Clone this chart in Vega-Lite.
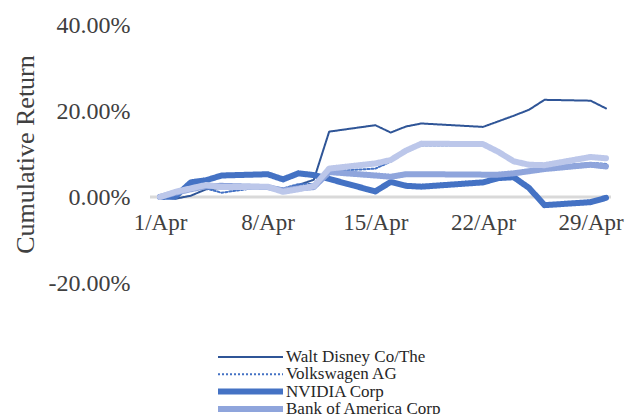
{
  "$schema": "https://vega.github.io/schema/vega-lite/v6.json",
  "width": 461,
  "height": 258,
  "autosize": {"type": "none"},
  "padding": {"left": 150, "top": 25, "right": 15, "bottom": 131},
  "background": "white",
  "config": {"view": {"stroke": null}, "font": "Liberation Serif"},
  "layer": [
    {
      "data": {"values": [{}]},
      "mark": {"type": "rule", "color": "#d9d9d9", "strokeWidth": 3},
      "encoding": {"y": {"datum": 0, "type": "quantitative"}}
    },
    {
      "data": {"values": [
        {"date": "2019-04-01", "series": "Walt Disney Co/The", "ret": 0},
        {"date": "2019-04-02", "series": "Walt Disney Co/The", "ret": -0.004},
        {"date": "2019-04-03", "series": "Walt Disney Co/The", "ret": 0.003},
        {"date": "2019-04-04", "series": "Walt Disney Co/The", "ret": 0.018},
        {"date": "2019-04-05", "series": "Walt Disney Co/The", "ret": 0.021},
        {"date": "2019-04-08", "series": "Walt Disney Co/The", "ret": 0.023},
        {"date": "2019-04-09", "series": "Walt Disney Co/The", "ret": 0.017},
        {"date": "2019-04-10", "series": "Walt Disney Co/The", "ret": 0.028},
        {"date": "2019-04-11", "series": "Walt Disney Co/The", "ret": 0.040},
        {"date": "2019-04-12", "series": "Walt Disney Co/The", "ret": 0.152},
        {"date": "2019-04-15", "series": "Walt Disney Co/The", "ret": 0.167},
        {"date": "2019-04-16", "series": "Walt Disney Co/The", "ret": 0.150},
        {"date": "2019-04-17", "series": "Walt Disney Co/The", "ret": 0.164},
        {"date": "2019-04-18", "series": "Walt Disney Co/The", "ret": 0.171},
        {"date": "2019-04-22", "series": "Walt Disney Co/The", "ret": 0.163},
        {"date": "2019-04-23", "series": "Walt Disney Co/The", "ret": 0.176},
        {"date": "2019-04-24", "series": "Walt Disney Co/The", "ret": 0.189},
        {"date": "2019-04-25", "series": "Walt Disney Co/The", "ret": 0.203},
        {"date": "2019-04-26", "series": "Walt Disney Co/The", "ret": 0.226},
        {"date": "2019-04-29", "series": "Walt Disney Co/The", "ret": 0.224},
        {"date": "2019-04-30", "series": "Walt Disney Co/The", "ret": 0.206},

        {"date": "2019-04-01", "series": "Volkswagen AG", "ret": 0},
        {"date": "2019-04-02", "series": "Volkswagen AG", "ret": 0.015},
        {"date": "2019-04-03", "series": "Volkswagen AG", "ret": 0.025},
        {"date": "2019-04-04", "series": "Volkswagen AG", "ret": 0.020},
        {"date": "2019-04-05", "series": "Volkswagen AG", "ret": 0.010},
        {"date": "2019-04-08", "series": "Volkswagen AG", "ret": 0.025},
        {"date": "2019-04-09", "series": "Volkswagen AG", "ret": 0.020},
        {"date": "2019-04-10", "series": "Volkswagen AG", "ret": 0.030},
        {"date": "2019-04-11", "series": "Volkswagen AG", "ret": 0.030},
        {"date": "2019-04-12", "series": "Volkswagen AG", "ret": 0.060},
        {"date": "2019-04-15", "series": "Volkswagen AG", "ret": 0.066},
        {"date": "2019-04-16", "series": "Volkswagen AG", "ret": 0.082},
        {"date": "2019-04-17", "series": "Volkswagen AG", "ret": 0.108},
        {"date": "2019-04-18", "series": "Volkswagen AG", "ret": 0.120},
        {"date": "2019-04-22", "series": "Volkswagen AG", "ret": 0.120},
        {"date": "2019-04-23", "series": "Volkswagen AG", "ret": 0.102},
        {"date": "2019-04-24", "series": "Volkswagen AG", "ret": 0.083},
        {"date": "2019-04-25", "series": "Volkswagen AG", "ret": 0.072},
        {"date": "2019-04-26", "series": "Volkswagen AG", "ret": 0.070},
        {"date": "2019-04-29", "series": "Volkswagen AG", "ret": 0.079},
        {"date": "2019-04-30", "series": "Volkswagen AG", "ret": 0.077},

        {"date": "2019-04-01", "series": "NVIDIA Corp", "ret": 0},
        {"date": "2019-04-02", "series": "NVIDIA Corp", "ret": 0.001},
        {"date": "2019-04-03", "series": "NVIDIA Corp", "ret": 0.034},
        {"date": "2019-04-04", "series": "NVIDIA Corp", "ret": 0.039},
        {"date": "2019-04-05", "series": "NVIDIA Corp", "ret": 0.050},
        {"date": "2019-04-08", "series": "NVIDIA Corp", "ret": 0.053},
        {"date": "2019-04-09", "series": "NVIDIA Corp", "ret": 0.041},
        {"date": "2019-04-10", "series": "NVIDIA Corp", "ret": 0.055},
        {"date": "2019-04-11", "series": "NVIDIA Corp", "ret": 0.051},
        {"date": "2019-04-12", "series": "NVIDIA Corp", "ret": 0.042},
        {"date": "2019-04-15", "series": "NVIDIA Corp", "ret": 0.013},
        {"date": "2019-04-16", "series": "NVIDIA Corp", "ret": 0.035},
        {"date": "2019-04-17", "series": "NVIDIA Corp", "ret": 0.026},
        {"date": "2019-04-18", "series": "NVIDIA Corp", "ret": 0.024},
        {"date": "2019-04-22", "series": "NVIDIA Corp", "ret": 0.034},
        {"date": "2019-04-23", "series": "NVIDIA Corp", "ret": 0.044},
        {"date": "2019-04-24", "series": "NVIDIA Corp", "ret": 0.046},
        {"date": "2019-04-25", "series": "NVIDIA Corp", "ret": 0.021},
        {"date": "2019-04-26", "series": "NVIDIA Corp", "ret": -0.019},
        {"date": "2019-04-29", "series": "NVIDIA Corp", "ret": -0.012},
        {"date": "2019-04-30", "series": "NVIDIA Corp", "ret": -0.002},

        {"date": "2019-04-01", "series": "Bank of America Corp", "ret": 0},
        {"date": "2019-04-02", "series": "Bank of America Corp", "ret": 0.010},
        {"date": "2019-04-03", "series": "Bank of America Corp", "ret": 0.018},
        {"date": "2019-04-04", "series": "Bank of America Corp", "ret": 0.025},
        {"date": "2019-04-05", "series": "Bank of America Corp", "ret": 0.026},
        {"date": "2019-04-08", "series": "Bank of America Corp", "ret": 0.023},
        {"date": "2019-04-09", "series": "Bank of America Corp", "ret": 0.015},
        {"date": "2019-04-10", "series": "Bank of America Corp", "ret": 0.020},
        {"date": "2019-04-11", "series": "Bank of America Corp", "ret": 0.023},
        {"date": "2019-04-12", "series": "Bank of America Corp", "ret": 0.058},
        {"date": "2019-04-15", "series": "Bank of America Corp", "ret": 0.050},
        {"date": "2019-04-16", "series": "Bank of America Corp", "ret": 0.047},
        {"date": "2019-04-17", "series": "Bank of America Corp", "ret": 0.053},
        {"date": "2019-04-18", "series": "Bank of America Corp", "ret": 0.053},
        {"date": "2019-04-22", "series": "Bank of America Corp", "ret": 0.052},
        {"date": "2019-04-23", "series": "Bank of America Corp", "ret": 0.052},
        {"date": "2019-04-24", "series": "Bank of America Corp", "ret": 0.055},
        {"date": "2019-04-25", "series": "Bank of America Corp", "ret": 0.060},
        {"date": "2019-04-26", "series": "Bank of America Corp", "ret": 0.065},
        {"date": "2019-04-29", "series": "Bank of America Corp", "ret": 0.075},
        {"date": "2019-04-30", "series": "Bank of America Corp", "ret": 0.071},

        {"date": "2019-04-01", "series": "Series 5", "ret": 0},
        {"date": "2019-04-02", "series": "Series 5", "ret": 0.012},
        {"date": "2019-04-03", "series": "Series 5", "ret": 0.020},
        {"date": "2019-04-04", "series": "Series 5", "ret": 0.028},
        {"date": "2019-04-05", "series": "Series 5", "ret": 0.023},
        {"date": "2019-04-08", "series": "Series 5", "ret": 0.024},
        {"date": "2019-04-09", "series": "Series 5", "ret": 0.012},
        {"date": "2019-04-10", "series": "Series 5", "ret": 0.018},
        {"date": "2019-04-11", "series": "Series 5", "ret": 0.025},
        {"date": "2019-04-12", "series": "Series 5", "ret": 0.066},
        {"date": "2019-04-15", "series": "Series 5", "ret": 0.078},
        {"date": "2019-04-16", "series": "Series 5", "ret": 0.086},
        {"date": "2019-04-17", "series": "Series 5", "ret": 0.108},
        {"date": "2019-04-18", "series": "Series 5", "ret": 0.124},
        {"date": "2019-04-22", "series": "Series 5", "ret": 0.123},
        {"date": "2019-04-23", "series": "Series 5", "ret": 0.105},
        {"date": "2019-04-24", "series": "Series 5", "ret": 0.083},
        {"date": "2019-04-25", "series": "Series 5", "ret": 0.075},
        {"date": "2019-04-26", "series": "Series 5", "ret": 0.074},
        {"date": "2019-04-29", "series": "Series 5", "ret": 0.093},
        {"date": "2019-04-30", "series": "Series 5", "ret": 0.090}
      ]},
      "mark": {"type": "line", "strokeCap": "round", "strokeJoin": "round"},
      "encoding": {
        "x": {
          "field": "date", "type": "temporal",
          "scale": {"type": "utc", "domain": [1554020640000, 1556610480000], "nice": false},
          "axis": {
            "values": [1554076800000, 1554681600000, 1555286400000, 1555891200000, 1556496000000],
            "labelExpr": "utcFormat(datum.value, '%-d/%b')",
            "title": null, "grid": false, "domain": false, "ticks": false,
            "labelFont": "Liberation Serif", "labelFontSize": 23, "labelColor": "#404040",
            "labelPadding": 14, "offset": -86, "labelFlush": false, "labelOverlap": false
          }
        },
        "y": {
          "field": "ret", "type": "quantitative",
          "scale": {"domain": [-0.2, 0.4], "nice": false, "zero": false},
          "axis": {
            "values": [-0.2, 0, 0.2, 0.4],
            "labelExpr": "replace(format(datum.value, '.2%'), '\u2212', '-')",
            "title": "Cumulative Return", "grid": false, "domain": false, "ticks": false,
            "labelFont": "Liberation Serif", "labelFontSize": 24, "labelColor": "#404040", "labelPadding": 20,
            "titleFont": "Liberation Serif", "titleFontSize": 26, "titleFontWeight": "normal", "titleColor": "#404040",
            "titleX": -117, "titleBaseline": "alphabetic"
          }
        },
        "color": {
          "field": "series", "type": "nominal",
          "scale": {
            "domain": ["Walt Disney Co/The", "Volkswagen AG", "NVIDIA Corp", "Bank of America Corp", "Series 5"],
            "range": ["#2f5597", "#4472c4", "#4472c4", "#8fa5dc", "#bcc7ea"]
          },
          "legend": {
            "orient": "none", "legendX": 65, "legendY": 324, "title": null,
            "values": ["Walt Disney Co/The", "Volkswagen AG", "NVIDIA Corp", "Bank of America Corp"],
            "symbolType": "stroke", "symbolSize": 4225, "clipHeight": 16, "rowPadding": 0.3,
            "labelFont": "Liberation Serif", "labelFontSize": 17, "labelColor": "#262626", "labelOffset": 0
          }
        },
        "strokeWidth": {
          "field": "series", "type": "ordinal",
          "scale": {
            "type": "ordinal",
            "domain": ["Walt Disney Co/The", "Volkswagen AG", "NVIDIA Corp", "Bank of America Corp", "Series 5"],
            "range": [2, 2, 6, 6, 6]
          },
          "legend": {
            "orient": "none", "legendX": 65, "legendY": 324, "title": null,
            "values": ["Walt Disney Co/The", "Volkswagen AG", "NVIDIA Corp", "Bank of America Corp"]
          }
        },
        "strokeDash": {
          "field": "series", "type": "nominal",
          "scale": {
            "domain": ["Walt Disney Co/The", "Volkswagen AG", "NVIDIA Corp", "Bank of America Corp", "Series 5"],
            "range": [[1, 0], [2, 2], [1, 0], [1, 0], [1, 0]]
          },
          "legend": {
            "orient": "none", "legendX": 65, "legendY": 324, "title": null,
            "values": ["Walt Disney Co/The", "Volkswagen AG", "NVIDIA Corp", "Bank of America Corp"]
          }
        }
      }
    }
  ]
}
